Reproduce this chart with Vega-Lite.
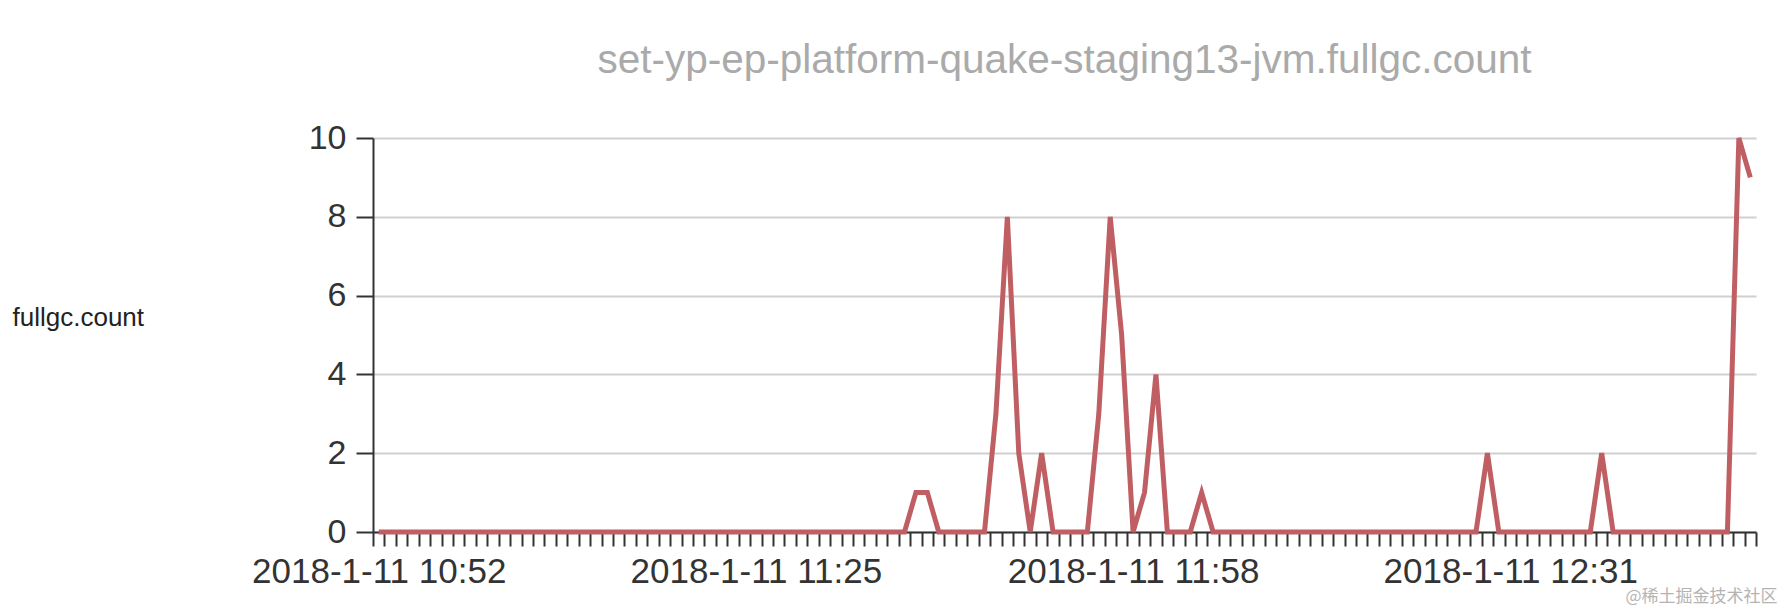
{
  "$schema": "https://vega.github.io/schema/vega-lite/v6.json",
  "width": 1383,
  "height": 394,
  "autosize": "none",
  "padding": {"left": 373, "top": 138, "right": 36, "bottom": 78},
  "background": "white",
  "title": {
    "text": "set-yp-ep-platform-quake-staging13-jvm.fullgc.count",
    "fontSize": 40.5,
    "font": "Liberation Sans",
    "fontWeight": "normal",
    "color": "#aaaaaa",
    "anchor": "middle",
    "frame": "group",
    "offset": 40
  },
  "data": {
    "values": [
      {"time": "2018-1-11 10:52", "value": 0},
      {"time": "2018-1-11 10:53", "value": 0},
      {"time": "2018-1-11 10:54", "value": 0},
      {"time": "2018-1-11 10:55", "value": 0},
      {"time": "2018-1-11 10:56", "value": 0},
      {"time": "2018-1-11 10:57", "value": 0},
      {"time": "2018-1-11 10:58", "value": 0},
      {"time": "2018-1-11 10:59", "value": 0},
      {"time": "2018-1-11 11:00", "value": 0},
      {"time": "2018-1-11 11:01", "value": 0},
      {"time": "2018-1-11 11:02", "value": 0},
      {"time": "2018-1-11 11:03", "value": 0},
      {"time": "2018-1-11 11:04", "value": 0},
      {"time": "2018-1-11 11:05", "value": 0},
      {"time": "2018-1-11 11:06", "value": 0},
      {"time": "2018-1-11 11:07", "value": 0},
      {"time": "2018-1-11 11:08", "value": 0},
      {"time": "2018-1-11 11:09", "value": 0},
      {"time": "2018-1-11 11:10", "value": 0},
      {"time": "2018-1-11 11:11", "value": 0},
      {"time": "2018-1-11 11:12", "value": 0},
      {"time": "2018-1-11 11:13", "value": 0},
      {"time": "2018-1-11 11:14", "value": 0},
      {"time": "2018-1-11 11:15", "value": 0},
      {"time": "2018-1-11 11:16", "value": 0},
      {"time": "2018-1-11 11:17", "value": 0},
      {"time": "2018-1-11 11:18", "value": 0},
      {"time": "2018-1-11 11:19", "value": 0},
      {"time": "2018-1-11 11:20", "value": 0},
      {"time": "2018-1-11 11:21", "value": 0},
      {"time": "2018-1-11 11:22", "value": 0},
      {"time": "2018-1-11 11:23", "value": 0},
      {"time": "2018-1-11 11:24", "value": 0},
      {"time": "2018-1-11 11:25", "value": 0},
      {"time": "2018-1-11 11:26", "value": 0},
      {"time": "2018-1-11 11:27", "value": 0},
      {"time": "2018-1-11 11:28", "value": 0},
      {"time": "2018-1-11 11:29", "value": 0},
      {"time": "2018-1-11 11:30", "value": 0},
      {"time": "2018-1-11 11:31", "value": 0},
      {"time": "2018-1-11 11:32", "value": 0},
      {"time": "2018-1-11 11:33", "value": 0},
      {"time": "2018-1-11 11:34", "value": 0},
      {"time": "2018-1-11 11:35", "value": 0},
      {"time": "2018-1-11 11:36", "value": 0},
      {"time": "2018-1-11 11:37", "value": 0},
      {"time": "2018-1-11 11:38", "value": 0},
      {"time": "2018-1-11 11:39", "value": 1},
      {"time": "2018-1-11 11:40", "value": 1},
      {"time": "2018-1-11 11:41", "value": 0},
      {"time": "2018-1-11 11:42", "value": 0},
      {"time": "2018-1-11 11:43", "value": 0},
      {"time": "2018-1-11 11:44", "value": 0},
      {"time": "2018-1-11 11:45", "value": 0},
      {"time": "2018-1-11 11:46", "value": 3},
      {"time": "2018-1-11 11:47", "value": 8},
      {"time": "2018-1-11 11:48", "value": 2},
      {"time": "2018-1-11 11:49", "value": 0},
      {"time": "2018-1-11 11:50", "value": 2},
      {"time": "2018-1-11 11:51", "value": 0},
      {"time": "2018-1-11 11:52", "value": 0},
      {"time": "2018-1-11 11:53", "value": 0},
      {"time": "2018-1-11 11:54", "value": 0},
      {"time": "2018-1-11 11:55", "value": 3},
      {"time": "2018-1-11 11:56", "value": 8},
      {"time": "2018-1-11 11:57", "value": 5},
      {"time": "2018-1-11 11:58", "value": 0},
      {"time": "2018-1-11 11:59", "value": 1},
      {"time": "2018-1-11 12:00", "value": 4},
      {"time": "2018-1-11 12:01", "value": 0},
      {"time": "2018-1-11 12:02", "value": 0},
      {"time": "2018-1-11 12:03", "value": 0},
      {"time": "2018-1-11 12:04", "value": 1},
      {"time": "2018-1-11 12:05", "value": 0},
      {"time": "2018-1-11 12:06", "value": 0},
      {"time": "2018-1-11 12:07", "value": 0},
      {"time": "2018-1-11 12:08", "value": 0},
      {"time": "2018-1-11 12:09", "value": 0},
      {"time": "2018-1-11 12:10", "value": 0},
      {"time": "2018-1-11 12:11", "value": 0},
      {"time": "2018-1-11 12:12", "value": 0},
      {"time": "2018-1-11 12:13", "value": 0},
      {"time": "2018-1-11 12:14", "value": 0},
      {"time": "2018-1-11 12:15", "value": 0},
      {"time": "2018-1-11 12:16", "value": 0},
      {"time": "2018-1-11 12:17", "value": 0},
      {"time": "2018-1-11 12:18", "value": 0},
      {"time": "2018-1-11 12:19", "value": 0},
      {"time": "2018-1-11 12:20", "value": 0},
      {"time": "2018-1-11 12:21", "value": 0},
      {"time": "2018-1-11 12:22", "value": 0},
      {"time": "2018-1-11 12:23", "value": 0},
      {"time": "2018-1-11 12:24", "value": 0},
      {"time": "2018-1-11 12:25", "value": 0},
      {"time": "2018-1-11 12:26", "value": 0},
      {"time": "2018-1-11 12:27", "value": 0},
      {"time": "2018-1-11 12:28", "value": 0},
      {"time": "2018-1-11 12:29", "value": 2},
      {"time": "2018-1-11 12:30", "value": 0},
      {"time": "2018-1-11 12:31", "value": 0},
      {"time": "2018-1-11 12:32", "value": 0},
      {"time": "2018-1-11 12:33", "value": 0},
      {"time": "2018-1-11 12:34", "value": 0},
      {"time": "2018-1-11 12:35", "value": 0},
      {"time": "2018-1-11 12:36", "value": 0},
      {"time": "2018-1-11 12:37", "value": 0},
      {"time": "2018-1-11 12:38", "value": 0},
      {"time": "2018-1-11 12:39", "value": 2},
      {"time": "2018-1-11 12:40", "value": 0},
      {"time": "2018-1-11 12:41", "value": 0},
      {"time": "2018-1-11 12:42", "value": 0},
      {"time": "2018-1-11 12:43", "value": 0},
      {"time": "2018-1-11 12:44", "value": 0},
      {"time": "2018-1-11 12:45", "value": 0},
      {"time": "2018-1-11 12:46", "value": 0},
      {"time": "2018-1-11 12:47", "value": 0},
      {"time": "2018-1-11 12:48", "value": 0},
      {"time": "2018-1-11 12:49", "value": 0},
      {"time": "2018-1-11 12:50", "value": 0},
      {"time": "2018-1-11 12:51", "value": 10},
      {"time": "2018-1-11 12:52", "value": 9}
    ]
  },
  "mark": {"type": "line", "color": "#c05f63", "strokeWidth": 5, "strokeJoin": "miter"},
  "encoding": {
    "x": {
      "field": "time",
      "type": "ordinal",
      "sort": null,
      "bandPosition": 0.5,
      "scale": {"type": "band", "paddingInner": 0, "paddingOuter": 0},
      "axis": {
        "tickBand": "extent",
        "labelAngle": 0,
        "labelOverlap": false,
        "labelLimit": 0,
        "labelExpr": "indexof(['2018-1-11 10:52','2018-1-11 11:25','2018-1-11 11:58','2018-1-11 12:31'], datum.value) >= 0 ? datum.value : ''",
        "labelFontSize": 35,
        "labelColor": "#333333",
        "labelFont": "Liberation Sans",
        "labelPadding": 8,
        "labelBaseline": "top",
        "tickSize": 14,
        "tickWidth": 2,
        "tickColor": "#333333",
        "domainColor": "#333333",
        "domainWidth": 2,
        "grid": false,
        "title": "@稀土掘金技术社区",
        "titleFont": "Noto Sans CJK SC",
        "titleFontSize": 17,
        "titleFontWeight": "normal",
        "titleColor": "#b4b4b4",
        "titleAlign": "right",
        "titleAnchor": "end",
        "titleX": 1404,
        "titleY": 64,
        "titleBaseline": "middle"
      }
    },
    "y": {
      "field": "value",
      "type": "quantitative",
      "scale": {"domain": [0, 10], "nice": false, "zero": true},
      "axis": {
        "values": [0, 2, 4, 6, 8, 10],
        "labelFontSize": 34,
        "labelColor": "#333333",
        "labelFont": "Liberation Sans",
        "labelPadding": 10,
        "tickSize": 17,
        "tickWidth": 2,
        "tickColor": "#333333",
        "domainColor": "#333333",
        "domainWidth": 2,
        "grid": true,
        "gridColor": "#d0d0d0",
        "gridWidth": 2,
        "title": "fullgc.count",
        "titleFont": "Liberation Sans",
        "titleFontSize": 26,
        "titleFontWeight": "normal",
        "titleColor": "#222222",
        "titleAngle": 0,
        "titleAlign": "left",
        "titleBaseline": "middle",
        "titleX": -361,
        "titleY": 179,
        "titleLimit": 0
      }
    }
  },
  "config": {"view": {"stroke": null}}
}
